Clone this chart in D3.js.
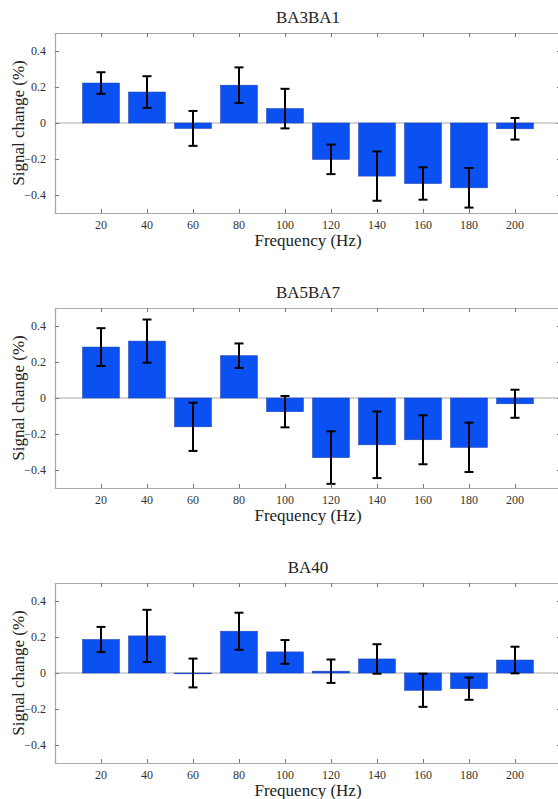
<!DOCTYPE html>
<html>
<head>
<meta charset="utf-8">
<script src="https://cdn.jsdelivr.net/npm/d3@7"></script>
</head>
<body style="margin:0">
<div id="chart"></div>
<script>
// Data
var freqs = [20, 40, 60, 80, 100, 120, 140, 160, 180, 200];
var yTicks = [-0.4, -0.2, 0, 0.2, 0.4];
var titles = ['BA3BA1', 'BA5BA7', 'BA40'];

var ba3Means = [0.222, 0.172, -0.030, 0.210, 0.080, -0.202, -0.295, -0.336, -0.360, -0.032];
var ba3Errs  = [0.060, 0.088, 0.097, 0.099, 0.110, 0.082, 0.137, 0.090, 0.110, 0.060];

var ba5Means = [0.283, 0.316, -0.160, 0.235, -0.076, -0.331, -0.260, -0.232, -0.274, -0.032];
var ba5Errs  = [0.105, 0.120, 0.134, 0.068, 0.087, 0.146, 0.185, 0.136, 0.137, 0.078];

var ba40Means = [0.186, 0.206, 0.000, 0.232, 0.117, 0.010, 0.078, -0.096, -0.087, 0.072];
var ba40Errs  = [0.070, 0.145, 0.080, 0.103, 0.066, 0.065, 0.082, 0.092, 0.062, 0.074];

var series = [
    { title: titles[0], means: ba3Means, errs: ba3Errs },
    { title: titles[1], means: ba5Means, errs: ba5Errs },
    { title: titles[2], means: ba40Means, errs: ba40Errs }
];

// Layout constants
var WIDTH = 558;
var HEIGHT = 799;
var AX_LEFT = 55;
var AX_RIGHT = 561;
var AX_H = 180;
var PANEL_TOPS = [33, 308, 583];
var BAR_FRAC = 0.8;
var BAR_COLOR = '#0b50f0';
var BAR_EDGE = '#1f44b8';
var BOX_COLOR = '#a8a8a8';
var TEXT_COLOR = '#333';
var TICK_LEN = 4;
var CAP_W = 9;

var svg = d3.select('#chart').append('svg')
    .attr('width', WIDTH)
    .attr('height', HEIGHT);

var x = d3.scaleLinear().domain([0, 220]).range([AX_LEFT, AX_RIGHT]);
var barW = (x(20) - x(0)) * BAR_FRAC;

// every label goes straight onto the svg, in the serif face
function label(px, py, str, size, anchor, rotate) {
    var t = svg.append('text')
        .attr('x', px)
        .attr('y', py)
        .attr('text-anchor', anchor)
        .attr('fill', TEXT_COLOR)
        .style('font-family', "'Liberation Serif'", 'important')
        .style('font-size', size + 'px')
        .text(str);
    if (rotate) t.attr('transform', 'rotate(-90,' + px + ',' + py + ')');
    return t;
}

series.forEach(function (s, i) {
    var top = PANEL_TOPS[i];
    var bottom = top + AX_H;
    var y = d3.scaleLinear().domain([-0.5, 0.5]).range([bottom, top]);
    var g = svg.append('g');
    var rows = freqs.map(function (f, k) { return { f: f, m: s.means[k], e: s.errs[k] }; });

    // zero baseline
    g.append('line')
        .attr('x1', x(0)).attr('x2', x(220))
        .attr('y1', y(0)).attr('y2', y(0))
        .attr('stroke', BOX_COLOR).attr('stroke-width', 1);

    // bars
    g.selectAll('rect.bar')
        .data(rows)
        .join('rect')
        .attr('class', 'bar')
        .attr('x', function (d) { return x(d.f) - barW / 2; })
        .attr('width', barW)
        .attr('y', function (d) { return y(Math.max(0, d.m)); })
        .attr('height', function (d) { return Math.max(0.8, Math.abs(y(d.m) - y(0))); })
        .attr('fill', BAR_COLOR)
        .attr('stroke', BAR_EDGE)
        .attr('stroke-width', 0.6);

    // error bars
    var eb = g.selectAll('g.err')
        .data(rows)
        .join('g')
        .attr('class', 'err')
        .attr('stroke', '#000')
        .attr('stroke-width', 2);
    eb.append('line')
        .attr('x1', function (d) { return x(d.f); })
        .attr('x2', function (d) { return x(d.f); })
        .attr('y1', function (d) { return y(d.m + d.e); })
        .attr('y2', function (d) { return y(d.m - d.e); });
    eb.append('line')
        .attr('x1', function (d) { return x(d.f) - CAP_W / 2; })
        .attr('x2', function (d) { return x(d.f) + CAP_W / 2; })
        .attr('y1', function (d) { return y(d.m + d.e); })
        .attr('y2', function (d) { return y(d.m + d.e); });
    eb.append('line')
        .attr('x1', function (d) { return x(d.f) - CAP_W / 2; })
        .attr('x2', function (d) { return x(d.f) + CAP_W / 2; })
        .attr('y1', function (d) { return y(d.m - d.e); })
        .attr('y2', function (d) { return y(d.m - d.e); });

    // axis box and inward ticks (labels are drawn separately below)
    var axes = [
        g.append('g').attr('transform', 'translate(0,' + bottom + ')')
            .call(d3.axisBottom(x).tickValues(freqs).tickSize(-TICK_LEN).tickFormat('')),
        g.append('g').attr('transform', 'translate(0,' + top + ')')
            .call(d3.axisTop(x).tickValues(freqs).tickSize(-TICK_LEN).tickFormat('')),
        g.append('g').attr('transform', 'translate(' + AX_LEFT + ',0)')
            .call(d3.axisLeft(y).tickValues(yTicks).tickSize(-TICK_LEN).tickFormat('')),
        g.append('g').attr('transform', 'translate(' + AX_RIGHT + ',0)')
            .call(d3.axisRight(y).tickValues(yTicks).tickSize(-TICK_LEN).tickFormat(''))
    ];
    axes.forEach(function (a) {
        a.select('.domain').attr('stroke', BOX_COLOR).attr('stroke-width', 1.2);
        a.selectAll('.tick line').attr('stroke', '#777');
        a.selectAll('.tick text').remove();
    });

    // tick labels
    var fmtX = d3.format('d');
    freqs.forEach(function (f) {
        label(x(f), bottom + 16, fmtX(f), 12, 'middle', false);
    });
    yTicks.forEach(function (v) {
        label(AX_LEFT - 9, y(v) + 4, v === 0 ? '0' : d3.format('.1f')(v), 12, 'end', false);
    });

    // title, x label, y label
    label((AX_LEFT + AX_RIGHT) / 2, top - 10, s.title, 17, 'middle', false).attr('fill', '#222');
    label((AX_LEFT + AX_RIGHT) / 2, bottom + 33, 'Frequency (Hz)', 17, 'middle', false).attr('fill', '#222');
    label(24, top + AX_H / 2, 'Signal change (%)', 17, 'middle', true).attr('fill', '#222');
});
</script>
</body>
</html>
